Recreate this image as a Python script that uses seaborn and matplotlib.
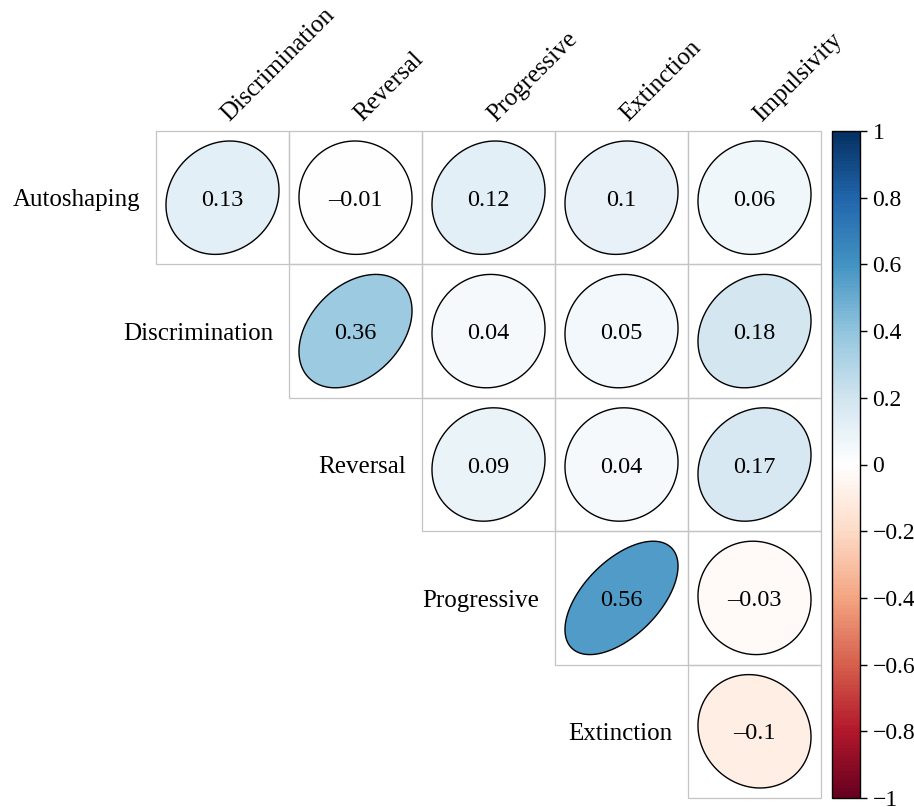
import numpy as np
import pandas as pd
import matplotlib
matplotlib.use("Agg")
import matplotlib.pyplot as plt
import seaborn as sns
from matplotlib.colors import LinearSegmentedColormap, Normalize
from matplotlib.patches import Polygon, Rectangle
from matplotlib.cm import ScalarMappable

# Task variables
row_labels = ["Autoshaping", "Discrimination", "Reversal", "Progressive", "Extinction"]
col_labels = ["Discrimination", "Reversal", "Progressive", "Extinction", "Impulsivity"]

# Correlations (upper triangle; NaN = not shown)
r_autoshaping = [0.13, -0.01, 0.12, 0.10, 0.06]
r_discrimination = [np.nan, 0.36, 0.04, 0.05, 0.18]
r_reversal = [np.nan, np.nan, 0.09, 0.04, 0.17]
r_progressive = [np.nan, np.nan, np.nan, 0.56, -0.03]
r_extinction = [np.nan, np.nan, np.nan, np.nan, -0.10]

cbar_ticks = [1, 0.8, 0.6, 0.4, 0.2, 0, -0.2, -0.4, -0.6, -0.8, -1]

corr = pd.DataFrame(
    [r_autoshaping, r_discrimination, r_reversal, r_progressive, r_extinction],
    index=row_labels, columns=col_labels,
)

sns.set_style("white")
plt.rcParams["font.family"] = ["Liberation Serif", "DejaVu Serif"]
plt.rcParams["text.color"] = "black"
plt.rcParams["ytick.color"] = "black"
plt.rcParams["ytick.labelcolor"] = "black"

# Red-blue diverging palette with a pure white midpoint
rdbu = LinearSegmentedColormap.from_list(
    "rdbu_white",
    ["#67001F", "#B2182B", "#D6604D", "#F4A582", "#FDDBC7", "#FFFFFF",
     "#D1E5F0", "#92C5DE", "#4393C3", "#2166AC", "#053061"], N=200)
norm = Normalize(vmin=-1, vmax=1)

fig = plt.figure(figsize=(9.14, 8.07), dpi=100)
ax = fig.add_axes([156 / 914, 1 - 798 / 807, 665 / 914, 667 / 807])
cax = fig.add_axes([832 / 914, 1 - 798 / 807, 28 / 914, 667 / 807])

mask = corr.isna()
grid = corr.notna().astype(float)
sns.heatmap(grid, mask=mask, cmap=LinearSegmentedColormap.from_list("w", ["white", "white"]),
            vmin=0, vmax=1, cbar=False, linewidths=0, square=False, ax=ax,
            xticklabels=False, yticklabels=False)

# Cell borders and ellipses whose elongation follows the correlation
scale = 0.85
t = np.linspace(0, 2 * np.pi, 120)
for i in range(corr.shape[0]):
    for j in range(corr.shape[1]):
        r = corr.iat[i, j]
        if np.isnan(r):
            continue
        ax.add_patch(Rectangle((j, i), 1, 1, facecolor="none", edgecolor="#c4c4c4",
                               linewidth=0.9, zorder=2, clip_on=False))
        d = np.arccos(r)
        ex = np.cos(t + d / 2) / 2 * scale
        ey = np.cos(t - d / 2) / 2 * scale
        pts = np.column_stack([j + 0.5 + ex, i + 0.5 - ey])
        ax.add_patch(Polygon(pts, closed=True, facecolor=rdbu(norm(r)),
                             edgecolor="black", linewidth=1.0, zorder=3))
        txt = f"{r:.2f}".rstrip("0").rstrip(".") if abs(r) >= 0.1 else f"{r:.2f}"
        txt = txt.replace("-", "\u2013")
        ax.text(j + 0.5, i + 0.52, txt, ha="center", va="center",
                fontsize=17.5, color="black", zorder=4)

# Row labels next to the first shown cell in each row
for i, lab in enumerate(row_labels):
    ax.text(i - 0.12, i + 0.52, lab, ha="right", va="center", fontsize=18)

# Column labels rotated along the top edge
for j, lab in enumerate(col_labels):
    ax.text(j + 0.58, -0.04, lab, ha="left", va="bottom", rotation=45,
            rotation_mode="anchor", fontsize=18)

ax.set_xlim(0, 5)
ax.set_ylim(5, 0)
for s in ax.spines.values():
    s.set_visible(False)

cb = fig.colorbar(ScalarMappable(norm=norm, cmap=rdbu), cax=cax, ticks=cbar_ticks)
cb.ax.set_yticklabels([("%g" % v).replace("-", "\u2212") for v in cbar_ticks])
cb.ax.tick_params(labelsize=17, length=5, width=1, color="black", labelcolor="black",
                  pad=4, right=True, direction="out")
cb.outline.set_edgecolor("black")
cb.outline.set_linewidth(1.0)

fig.savefig("out.png", dpi=100, facecolor="white")
